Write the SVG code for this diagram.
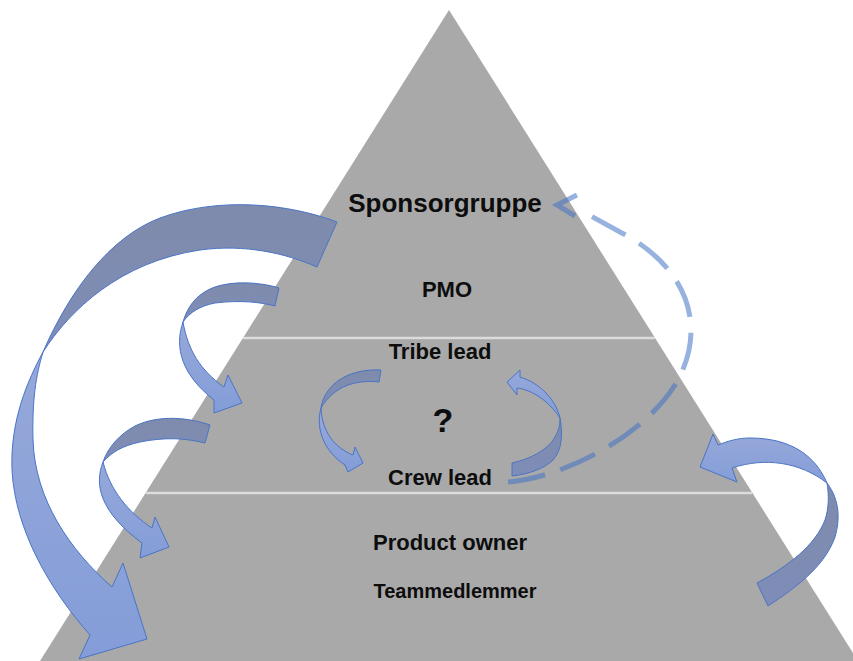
<svg xmlns="http://www.w3.org/2000/svg" width="853" height="661" viewBox="0 0 853 661">
  <defs>
    <style>
      .lbl { font-family: "Liberation Sans", Arial, sans-serif; font-weight: bold; fill: #0d0d0d; text-anchor: middle; }
      .divider { stroke: #dcdcdc; stroke-width: 2.5; }
      .back { fill: url(#backFill); stroke: #4a74c6; stroke-width: 1; stroke-linejoin: round; }
      .front { fill: url(#frontFill); stroke: #4a74c6; stroke-width: 1; stroke-linejoin: miter; }
      .dash { fill: none; stroke: #4472c4; stroke-opacity: 0.55; stroke-width: 5; }
    </style>
    <linearGradient id="backFill" x1="0" y1="0" x2="0" y2="1">
      <stop offset="0" stop-color="#7f8bab"/>
      <stop offset="1" stop-color="#7e8db8"/>
    </linearGradient>
    <linearGradient id="frontFill" x1="0" y1="0" x2="0" y2="1">
      <stop offset="0" stop-color="#96a8d9"/>
      <stop offset="1" stop-color="#849dd8"/>
    </linearGradient>
  </defs>

  <rect width="853" height="661" fill="#ffffff"/>

  <!-- pyramid body and level dividers -->
  <g id="pyramid">
    <polygon points="449,10 40,661 858,661" fill="#a9a9a9"/>
    <line class="divider" x1="243" y1="338" x2="655" y2="338"/>
    <line class="divider" x1="146" y1="493" x2="752" y2="493"/>
  </g>

  <g id="sponsorgruppe"><text class="lbl" x="445" y="212" font-size="26">Sponsorgruppe</text></g>
  <g id="pmo"><text class="lbl" x="447" y="297" font-size="22">PMO</text></g>
  <g id="tribe-lead"><text class="lbl" x="440" y="359" font-size="22">Tribe lead</text></g>
  <g id="unknown"><text class="lbl" x="443" y="432" font-size="34">?</text></g>
  <g id="crew-lead"><text class="lbl" x="440" y="485" font-size="22">Crew lead</text></g>
  <g id="product-owner"><text class="lbl" x="450" y="550" font-size="22">Product owner</text></g>
  <g id="teammedlemmer"><text class="lbl" x="455" y="598" font-size="20">Teammedlemmer</text></g>

  <g id="connectors">
    <!-- large arrow: Sponsorgruppe down to the base -->
    <path class="back" d="M337,222 C290,204 220,196 160,218 C110,237 70,290 43,352 C70,310 120,262 200,250 C245,244 285,253 317,267 Z"/>
    <path class="front" d="M43,352 C28,380 10,420 12,470 C15,530 50,590 90,635 L79,659 L147,639 L123,563 L112,587 C70,550 35,500 33,440 C32,400 36,375 43,352 Z"/>

    <!-- PMO level to Tribe lead level -->
    <path class="back" d="M279,288 C260,282 230,280 210,289 C195,296 187,308 183,322 C190,312 200,306 215,303 C240,300 260,302 275,306 Z"/>
    <path class="front" d="M183,322 C174,348 182,375 214,400 L214,413 L242,403 L228,375 L224,387 C200,370 188,350 183,322 Z"/>

    <!-- Crew lead level to Product owner level -->
    <path class="back" d="M210,425 C190,418 160,414 135,426 C120,434 108,447 103,462 C112,452 122,446 140,442 C165,437 185,438 205,443 Z"/>
    <path class="front" d="M103,462 C94,485 100,512 142,543 L140,558 L169,547 L155,517 L152,528 C128,512 110,490 103,462 Z"/>

    <!-- base back up into Crew lead level -->
    <path class="back" d="M757,583 C790,565 815,545 825,520 C829,508 829,495 827,483 C840,500 840,520 835,537 C825,565 800,585 768,606 Z"/>
    <path class="front" d="M827,483 C815,455 790,438 750,438 C738,438 728,441 718,445 L713,434 L700,467 L737,482 L732,468 C765,457 800,462 827,483 Z"/>

    <!-- Tribe lead to Crew lead -->
    <path class="back" d="M381,370 C365,369 345,373 333,385 C326,392 322,400 321,408 C327,398 335,390 348,385 C360,381 370,381 379,382 Z"/>
    <path class="front" d="M321,408 C315,430 325,452 345,465 L348,472 L363,463 L355,447 L353,455 C335,448 322,432 321,408 Z"/>

    <!-- Crew lead to Tribe lead -->
    <path class="back" d="M512,463 C530,459 548,450 555,437 C559,430 560,425 560,418 C563,435 562,450 553,460 C545,468 530,474 512,476 Z"/>
    <path class="front" d="M560,418 C556,400 540,383 520,377 L520,370 L507,382 L517,395 L517,388 C532,390 548,400 560,418 Z"/>

    <!-- dashed link from Crew lead to Sponsorgruppe -->
    <path class="dash" stroke-dasharray="38 16" d="M508,482 C560,478 640,440 675,385 C708,330 690,268 620,232 L578,209"/>
    <polyline class="dash" stroke-linejoin="miter" points="577,195 557,205 575,216"/>
  </g>
</svg>
